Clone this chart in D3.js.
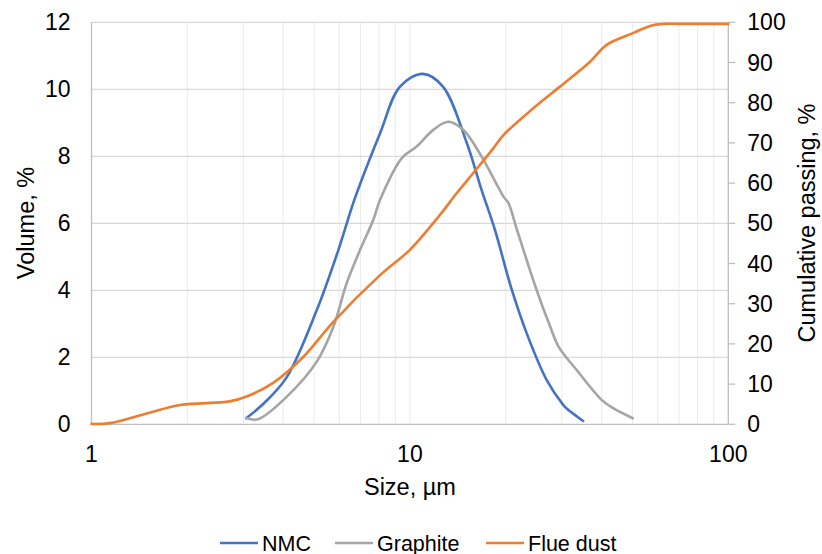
<!DOCTYPE html>
<html>
<head>
<meta charset="utf-8">
<script src="https://cdn.jsdelivr.net/npm/d3@7"></script>
<style>
  body { margin: 0; background: #fff; }
  svg { display: block; font-family: "Liberation Sans", Arial, sans-serif; }
</style>
</head>
<body>
<div id="chart"></div>
<script>
// Données
const nmcSize = [3.06, 3.5, 4.1, 5.1, 5.96, 6.72, 8.06, 9.31, 11.0, 12.7, 15.1, 16.8, 18.5, 20.9, 23.5, 26.9, 30.3, 31.0, 35.0];
const nmcVol  = [0.18, 0.65, 1.4, 3.41, 5.2, 6.75, 8.69, 10.08, 10.46, 10.08, 8.39, 6.99, 5.8, 4.01, 2.61, 1.32, 0.58, 0.48, 0.1];

const graphiteSize = [3.06, 3.33, 4.1, 5.1, 5.75, 6.33, 6.97, 7.67, 8.06, 9.42, 10.5, 11.85, 13.2, 14.7, 16.8, 19.7, 20.4, 21.7, 25.0, 27.6, 29.3, 33.4, 40.0, 43.5, 50.1];
const graphiteVol  = [0.19, 0.15, 0.82, 1.87, 2.91, 4.21, 5.2, 6.1, 6.7, 7.94, 8.29, 8.79, 9.03, 8.79, 7.99, 6.79, 6.6, 5.8, 4.01, 2.91, 2.32, 1.62, 0.73, 0.48, 0.18];

const dustSize = [1.0, 1.14, 1.49, 1.9, 2.72, 3.07, 3.72, 4.63, 5.75, 8.06, 10.0, 12.4, 14.0, 16.2, 18.3, 19.7, 24.4, 29.6, 36.8, 41.5, 50.2, 56.8, 63, 70, 100];
const dustCum  = [0.1, 0.3, 2.7, 4.8, 5.7, 6.9, 10.3, 16.8, 25.5, 37.1, 43.4, 52.0, 57.4, 63.5, 68.7, 72.0, 78.6, 84.0, 90.2, 94.4, 97.3, 99.1, 99.6, 99.6, 99.6];

const leftTicks = [0, 2, 4, 6, 8, 10, 12];
const rightTicks = [0, 10, 20, 30, 40, 50, 60, 70, 80, 90, 100];
const xLabels = [1, 10, 100];
const seriesNames = ["NMC", "Graphite", "Flue dust"];
const seriesColors = ["#4472C4", "#A5A5A5", "#ED7D31"];

const width = 822, height = 554;
const margin = { top: 22.3, right: 93.7, bottom: 129.7, left: 91.5 };
const innerW = width - margin.left - margin.right;
const innerH = height - margin.top - margin.bottom;

const svg = d3.select("#chart").append("svg")
  .attr("width", width).attr("height", height);
const g = svg.append("g").attr("transform", `translate(${margin.left},${margin.top})`);

const x = d3.scaleLog().domain([1, 100]).range([0, innerW]);
const yL = d3.scaleLinear().domain([0, 12]).range([innerH, 0]);
const yR = d3.scaleLinear().domain([0, 100]).range([innerH, 0]);

// Grille verticale (log)
const minor = [];
for (let dec = 1; dec < 100; dec *= 10) for (let k = 1; k <= 9; k++) minor.push(dec * k);
g.selectAll(".vgrid").data(minor.filter(d => d > 1)).enter().append("line")
  .attr("x1", d => x(d)).attr("x2", d => x(d))
  .attr("y1", 0).attr("y2", innerH)
  .attr("stroke", "#ebebeb").attr("stroke-width", 1);

// Grille horizontale
g.selectAll(".hgrid").data(leftTicks.filter(d => d > 0)).enter().append("line")
  .attr("x1", 0).attr("x2", innerW)
  .attr("y1", d => yL(d)).attr("y2", d => yL(d))
  .attr("stroke", "#d9d9d9").attr("stroke-width", 1.3);

// Axes
g.append("line").attr("x1", 0).attr("x2", 0).attr("y1", 0).attr("y2", innerH)
  .attr("stroke", "#bfbfbf").attr("stroke-width", 1.3);
g.append("line").attr("x1", innerW).attr("x2", innerW).attr("y1", 0).attr("y2", innerH)
  .attr("stroke", "#bfbfbf").attr("stroke-width", 1.3);
g.append("line").attr("x1", 0).attr("x2", innerW).attr("y1", innerH).attr("y2", innerH)
  .attr("stroke", "#bfbfbf").attr("stroke-width", 1.3);

// Graduations droite
g.selectAll(".rtick").data(rightTicks).enter().append("line")
  .attr("x1", innerW).attr("x2", innerW + 7)
  .attr("y1", d => yR(d)).attr("y2", d => yR(d))
  .attr("stroke", "#bfbfbf").attr("stroke-width", 1.3);

// Étiquettes
g.selectAll(".ltl").data(leftTicks).enter().append("text")
  .attr("x", -21).attr("y", d => yL(d)).attr("dy", "0.35em")
  .attr("text-anchor", "end").attr("font-size", 23).attr("fill", "#000")
  .text(d => d);
g.selectAll(".rtl").data(rightTicks).enter().append("text")
  .attr("x", innerW + 19).attr("y", d => yR(d)).attr("dy", "0.35em")
  .attr("text-anchor", "start").attr("font-size", 23).attr("fill", "#000")
  .text(d => d);
g.selectAll(".xtl").data(xLabels).enter().append("text")
  .attr("x", d => x(d)).attr("y", innerH + 38)
  .attr("text-anchor", "middle").attr("font-size", 23).attr("fill", "#000")
  .text(d => d);

// Titres d'axes
svg.append("text").attr("x", margin.left + x(10)).attr("y", 495)
  .attr("text-anchor", "middle").attr("font-size", 23.5).text("Size, µm");
svg.append("text").attr("transform", "translate(34,223) rotate(-90)")
  .attr("text-anchor", "middle").attr("font-size", 23.5).text("Volume, %");
svg.append("text").attr("transform", "translate(815,223) rotate(-90)")
  .attr("text-anchor", "middle").attr("font-size", 23.5).text("Cumulative passing, %");

// Courbes
const curve = d3.curveCatmullRom.alpha(0.5);
const lineL = d3.line().x(d => x(d[0])).y(d => yL(d[1])).curve(curve);
const lineR = d3.line().x(d => x(d[0])).y(d => yR(d[1])).curve(curve);

const series = [
  { pts: d3.zip(nmcSize, nmcVol), line: lineL, color: seriesColors[0] },
  { pts: d3.zip(graphiteSize, graphiteVol), line: lineL, color: seriesColors[1] },
  { pts: d3.zip(dustSize, dustCum), line: lineR, color: seriesColors[2] }
];
series.forEach(s => {
  g.append("path").attr("d", s.line(s.pts))
    .attr("fill", "none").attr("stroke", s.color)
    .attr("stroke-width", 2.6).attr("stroke-linejoin", "round").attr("stroke-linecap", "round");
});

// Légende
const legX = [220, 335, 486];
const legend = svg.append("g");
seriesNames.forEach((name, i) => {
  legend.append("line").attr("x1", legX[i]).attr("x2", legX[i] + 38)
    .attr("y1", 543).attr("y2", 543)
    .attr("stroke", seriesColors[i]).attr("stroke-width", 2.6);
  legend.append("text").attr("x", legX[i] + 42).attr("y", 550.5)
    .attr("font-size", 21.5).attr("fill", "#000").text(name);
});
</script>
</body>
</html>
